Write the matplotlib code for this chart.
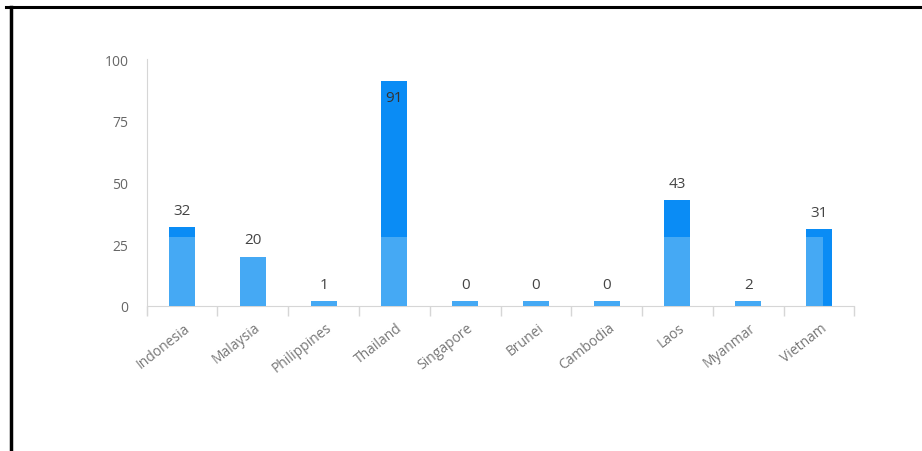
import numpy as np
import matplotlib.pyplot as plt
from matplotlib.lines import Line2D

# data
countries = ["Indonesia", "Malaysia", "Philippines", "Thailand", "Singapore",
             "Brunei", "Cambodia", "Laos", "Myanmar", "Vietnam"]
values = [32, 20, 1, 91, 0, 0, 0, 43, 2, 31]
yticks = [0, 25, 50, 75, 100]

light = "#45a9f4"
dark = "#0a8cf5"
split = 28      # where the lighter part of each bar stops
min_show = 2    # small values still drawn as a thin stub

plt.rcParams['font.family'] = ['Open Sans', 'DejaVu Sans']

fig = plt.figure(figsize=(9.22, 4.52), dpi=100)
ax = fig.add_axes([146.6 / 922, 145 / 452, 707.8 / 922, 247 / 452])

x = np.arange(len(countries))
v = np.array(values, dtype=float)
shown = np.maximum(v, min_show)
w = 0.367

# full bar in dark blue, light lower part on top
ax.bar(x, shown, width=w, color=dark, zorder=2)
low = np.minimum(shown, split)
lw = np.full(len(x), w)
lw[-1] = w * 0.65   # Vietnam's light part is narrower in the original
ax.bar(x - w / 2, low, width=lw, align="edge", color=light, zorder=3)

# value labels
for i, val in enumerate(values):
    if val > 80:
        ax.annotate(str(val), (x[i], shown[i]), xytext=(0, -12),
                    textcoords="offset points", ha="center", va="center",
                    fontsize=11, color="#333333", zorder=4)
    else:
        ax.annotate(str(val), (x[i], shown[i]), xytext=(0, 12),
                    textcoords="offset points", ha="center", va="center",
                    fontsize=11, color="#444444", zorder=4)

ax.set_xlim(-0.5, len(x) - 0.5)
ax.set_ylim(0, 100)
ax.set_yticks(yticks)
ax.tick_params(axis="y", length=0, pad=13, labelsize=10, labelcolor="#666666")

# tick marks between the categories
ax.set_xticks(np.arange(-0.5, len(x), 1.0))
ax.set_xticklabels([])
ax.tick_params(axis="x", length=7.5, width=1, color="#d6d6d6")
for i, name in enumerate(countries):
    ax.annotate(name, (x[i], 0), xytext=(1, -10), textcoords="offset points",
                ha="right", va="top", rotation=38, rotation_mode="anchor",
                fontsize=10, color="#777777", annotation_clip=False)

for s in ["top", "right"]:
    ax.spines[s].set_visible(False)
ax.spines["left"].set_color("#d6d6d6")
ax.spines["bottom"].set_color("#d6d6d6")
ax.spines["left"].set_bounds(-7.5 / 2.47, 100)
ax.spines["left"].set_position(("data", -0.5))

# black frame of the screenshot (top and left edges)
fig.add_artist(Line2D([6 / 922, 1], [1 - 8 / 452, 1 - 8 / 452],
                      transform=fig.transFigure, color="black", lw=2.2))
fig.add_artist(Line2D([10.5 / 922, 10.5 / 922], [0, 1 - 8 / 452],
                      transform=fig.transFigure, color="black", lw=2.5))

fig.savefig("out.png", dpi=100)
